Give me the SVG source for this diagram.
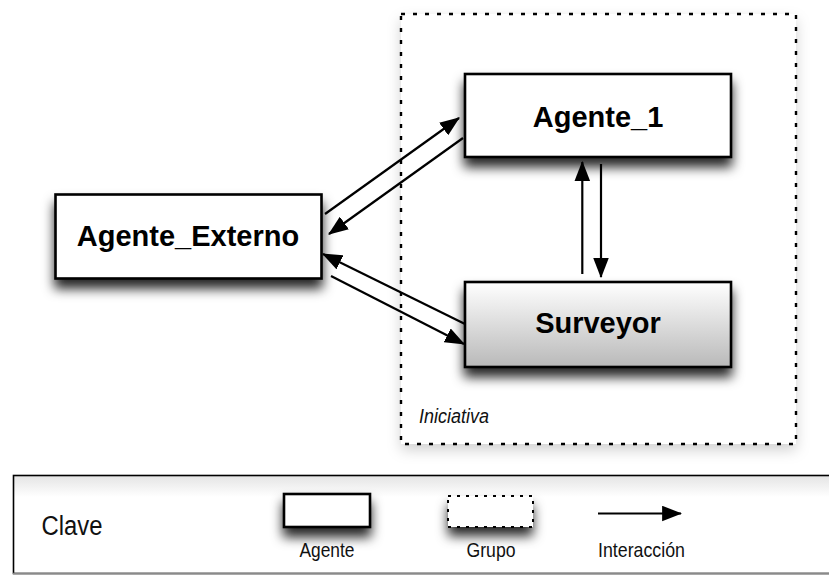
<svg xmlns="http://www.w3.org/2000/svg" width="829" height="575" viewBox="0 0 829 575">
  <defs>
    <style>
      .box { fill: #ffffff; stroke: #000000; stroke-width: 2.6; }
      .grp { fill: none; stroke: #000000; stroke-width: 2.4; stroke-dasharray: 4 8; }
      .lbl { font-family: "Liberation Sans", Arial, Helvetica, sans-serif; font-weight: bold; font-size: 29px; fill: #000000; text-anchor: middle; }
      .key { font-family: "Liberation Sans", Arial, Helvetica, sans-serif; font-size: 21px; fill: #111111; }
      .edge { stroke: #000000; stroke-width: 2.2; fill: none; marker-end: url(#head); }
    </style>
    <marker id="head" markerUnits="userSpaceOnUse" markerWidth="20" markerHeight="16" viewBox="0 0 18 14" refX="17" refY="7" orient="auto">
      <path d="M0,0 L18,7 L0,14 Z" fill="#000000"/>
    </marker>
    <filter id="shadow" x="-20%" y="-30%" width="140%" height="200%">
      <feDropShadow dx="0" dy="9" stdDeviation="6" flood-color="#000000" flood-opacity="0.85"/>
    </filter>
    <filter id="softShadow" x="-10%" y="-10%" width="120%" height="130%">
      <feDropShadow dx="0" dy="6" stdDeviation="7" flood-color="#000000" flood-opacity="0.18"/>
    </filter>
    <linearGradient id="steel" x1="0" y1="0" x2="0" y2="1">
      <stop offset="0" stop-color="#ffffff"/>
      <stop offset="1" stop-color="#b9b9b9"/>
    </linearGradient>
    <linearGradient id="keyFill" x1="0" y1="0" x2="0" y2="1">
      <stop offset="0" stop-color="#e4e4e4"/>
      <stop offset="0.22" stop-color="#ffffff"/>
      <stop offset="1" stop-color="#ffffff"/>
    </linearGradient>
  </defs>

  <rect width="829" height="575" fill="#ffffff"/>

  <!-- group: Iniciativa -->
  <g id="grupo-iniciativa">
    <rect x="401" y="14" width="395" height="430" fill="#ffffff" filter="url(#softShadow)"/>
    <rect class="grp" x="401" y="14" width="395" height="430"/>
    <text x="419" y="423" font-family="'Liberation Sans', Arial, sans-serif" font-style="italic" font-size="20" textLength="70" lengthAdjust="spacingAndGlyphs" fill="#111111">Iniciativa</text>
  </g>

  <!-- agents -->
  <g id="agente-externo">
    <rect class="box" x="55.5" y="194.5" width="266" height="84" filter="url(#shadow)"/>
    <text class="lbl" x="188" y="246">Agente_Externo</text>
  </g>

  <g id="agente-1">
    <rect class="box" x="465" y="74" width="266" height="83" filter="url(#shadow)"/>
    <text class="lbl" x="598" y="127">Agente_1</text>
  </g>

  <g id="surveyor">
    <rect class="box" x="465" y="282" width="266" height="85" style="fill:url(#steel)" filter="url(#shadow)"/>
    <text class="lbl" x="598" y="333">Surveyor</text>
  </g>

  <!-- interactions -->
  <g id="connectors">
    <line class="edge" x1="325" y1="214" x2="459" y2="118"/>
    <line class="edge" x1="463" y1="138" x2="329" y2="234"/>
    <line class="edge" x1="465" y1="324" x2="323" y2="254"/>
    <line class="edge" x1="331" y1="276" x2="464" y2="344"/>
    <line class="edge" x1="582.3" y1="274" x2="582.3" y2="162"/>
    <line class="edge" x1="601" y1="164" x2="601" y2="277"/>
  </g>

  <!-- key -->
  <g id="clave">
    <rect x="13.5" y="475.5" width="830" height="98" fill="url(#keyFill)" stroke="#000000" stroke-width="1.6"/>
    <line x1="13" y1="573.5" x2="829" y2="573.5" stroke="#8a8a8a" stroke-width="1.5"/>
    <text class="key" x="41.5" y="535" style="font-size:27px" textLength="61" lengthAdjust="spacingAndGlyphs">Clave</text>

    <rect class="box" x="284" y="494" width="86" height="33" stroke-width="2.4" filter="url(#shadow)"/>
    <text class="key" x="327" y="557" text-anchor="middle" textLength="55" lengthAdjust="spacingAndGlyphs">Agente</text>

    <rect x="448" y="496" width="85" height="31" fill="#ffffff" filter="url(#shadow)"/>
    <rect class="grp" x="448" y="496" width="85" height="31" style="stroke-width:2;stroke-dasharray:3 6"/>
    <text class="key" x="491" y="557" text-anchor="middle" textLength="49" lengthAdjust="spacingAndGlyphs">Grupo</text>

    <line class="edge" x1="598" y1="513.5" x2="681" y2="513.5"/>
    <text class="key" x="598" y="557" textLength="87" lengthAdjust="spacingAndGlyphs">Interacción</text>
  </g>
</svg>
